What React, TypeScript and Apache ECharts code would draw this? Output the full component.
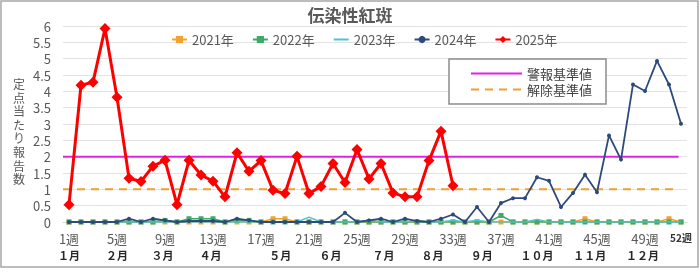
import React, { useEffect, useRef } from "react";
import * as echarts from "echarts";

const WEEKS: string[] = Array.from({ length: 52 }, (_, i) => `${i + 1}週`);
const Y_TICKS = { min: 0, max: 6, interval: 0.5 };
const Y_NAME = "定点当たり報告数";

const MONTH_LABELS = ["１月", "２月", "３月", "４月", "５月", "６月", "７月", "８月", "９月", "１０月", "１１月", "１２月"];
const MONTH_POS = [1, 5, 8.8, 12.8, 18.6, 22.8, 27.2, 31.3, 35.4, 40, 44.4, 48.8];

const Y2021 = [0, 0, 0, 0, 0, 0, 0, 0, 0, 0, 0, 0, 0, 0, 0, 0, 0, 0.1, 0.1, 0, 0, 0, 0, 0, 0, 0, 0, 0, 0, 0, 0, 0, 0, 0, 0, 0, 0, 0, 0, 0, 0, 0, 0, 0.1, 0, 0, 0, 0, 0, 0, 0.1, 0];
const Y2022 = [0, 0, 0, 0, 0, 0, 0, 0, 0.05, 0, 0.1, 0.1, 0.1, 0, 0.05, 0.05, 0, 0, 0, 0, 0, 0, 0, 0, 0, 0, 0, 0, 0, 0, 0, 0, 0, 0, 0, 0, 0.2, 0, 0, 0, 0, 0, 0, 0, 0, 0, 0, 0, 0, 0, 0, 0];
const Y2023 = [0, 0, 0, 0, 0, 0, 0, 0, 0, 0, 0, 0, 0, 0, 0, 0, 0, 0, 0, 0, 0.15, 0, 0, 0, 0, 0.05, 0, 0, 0, 0.05, 0, 0, 0.05, 0, 0.05, 0, 0, 0, 0, 0.08, 0, 0, 0, 0, 0, 0, 0, 0, 0, 0, 0, 0];
const Y2024 = [0, 0, 0, 0, 0, 0.1, 0, 0.1, 0.05, 0, 0.03, 0.03, 0.03, 0, 0.1, 0.05, 0, 0, 0, 0, 0, 0, 0, 0.28, 0, 0.05, 0.1, 0, 0.1, 0.03, 0, 0.1, 0.23, 0, 0.46, 0, 0.58, 0.73, 0.73, 1.37, 1.26, 0.46, 0.89, 1.45, 0.91, 2.65, 1.91, 4.21, 4.01, 4.93, 4.21, 3.01];
const Y2025 = [0.53, 4.19, 4.28, 5.92, 3.82, 1.34, 1.24, 1.71, 1.89, 0.53, 1.89, 1.44, 1.25, 0.77, 2.12, 1.55, 1.88, 0.97, 0.87, 2.01, 0.87, 1.09, 1.79, 1.21, 2.22, 1.32, 1.79, 0.89, 0.77, 0.77, 1.88, 2.78, 1.11];

const ALERT_LEVEL = 2;
const CLEAR_LEVEL = 1;
const THRESHOLD_SPAN = [0.5, 51.8];

const TEXT_GRAY = "#595959";

export default function App() {
  const ref = useRef<HTMLDivElement>(null);
  useEffect(() => {
    if (!ref.current) return;
    const chart = echarts.init(ref.current, null, { renderer: "svg" });
    const font = "'Noto Sans CJK JP', 'Noto Sans', sans-serif";
    const lineSeries = (name: string, data: number[], color: string, width: number, symbol: string, size: number, z: number) => ({
      name,
      type: "line",
      data,
      xAxisIndex: 0,
      yAxisIndex: 0,
      symbol,
      symbolSize: size,
      showSymbol: symbol !== "none",
      showAllSymbol: true,
      z,
      lineStyle: { color, width },
      itemStyle: { color },
    });
    const nameChars = Y_NAME.split("");
    const nameStep = 13.6;
    const nameCenter = 131;
    chart.setOption({
      animation: false,
      textStyle: { fontFamily: font },
      title: {
        text: "伝染性紅斑",
        left: "center",
        top: 1,
        textStyle: { fontSize: 17, fontWeight: "bold", color: TEXT_GRAY, fontFamily: font },
      },
      legend: [
        {
          data: [
            "2021年",
            "2022年",
            { name: "2023年", itemStyle: { opacity: 0 } },
            "2024年",
            "2025年",
          ],
          left: 166,
          top: 28,
          itemWidth: 15,
          itemHeight: 9,
          itemGap: 18,
          textStyle: { fontSize: 13, color: TEXT_GRAY, fontFamily: font },
        },
        {
          data: ["警報基準値", "解除基準値"],
          orient: "vertical",
          left: 449,
          top: 59,
          padding: [8, 14, 8, 21],
          itemWidth: 51,
          itemHeight: 10,
          itemGap: 3,
          itemStyle: { opacity: 0 },
          borderColor: "#8C8C8C",
          borderWidth: 1.5,
          backgroundColor: "#ffffff",
          textStyle: { fontSize: 13, color: "#404040", fontFamily: font },
        },
      ],
      grid: { left: 63, right: 13, top: 26, bottom: 52 },
      xAxis: [
        {
          type: "category",
          data: WEEKS,
          boundaryGap: true,
          axisLine: { lineStyle: { color: "#D9D9D9" } },
          axisTick: { show: false },
          axisLabel: {
            interval: (i: number) => i % 4 === 0 || i === 51,
            color: TEXT_GRAY,
            fontSize: 13,
            margin: 10,
            formatter: (v: string, i: number) => (i === 51 ? `{s|${v}}` : v),
            rich: { s: { fontSize: 10, fontWeight: "bold", color: "#333", padding: [0, 0, 4, 0] } },
          },
          splitLine: { show: false },
        },
        {
          type: "value",
          min: 0.5,
          max: 52.5,
          position: "bottom",
          axisLine: { show: false },
          axisTick: { show: false },
          splitLine: { show: false },
          axisLabel: {
            customValues: MONTH_POS,
            margin: 27,
            fontSize: 11,
            fontWeight: "bold",
            color: "#262626",
            formatter: (v: number) => {
              const idx = MONTH_POS.findIndex((p) => Math.abs(p - v) < 1e-6);
              return idx >= 0 ? MONTH_LABELS[idx] : "";
            },
          },
        },
      ],
      yAxis: {
        type: "value",
        min: Y_TICKS.min,
        max: Y_TICKS.max,
        interval: Y_TICKS.interval,
        axisLine: { show: false },
        axisTick: { show: false },
        axisLabel: { color: TEXT_GRAY, fontSize: 13, margin: 12 },
        splitLine: { lineStyle: { color: "#E3E3E3" } },
      },
      graphic: [
        {
          type: "rect",
          shape: { x: 1, y: 1, width: 697, height: 266 },
          style: { fill: "none", stroke: "#A6A6A6", lineWidth: 1.5 },
          silent: true,
        },
        ...nameChars.map((ch, i) => ({
          type: "text",
          x: 19,
          y: nameCenter + (i - (nameChars.length - 1) / 2) * nameStep,
          style: {
            text: ch,
            fontSize: 12,
            fill: TEXT_GRAY,
            textAlign: "center",
            textVerticalAlign: "middle",
            fontFamily: font,
          },
        })),
      ],
      series: [
        {
          name: "警報基準値",
          type: "line",
          xAxisIndex: 1,
          yAxisIndex: 0,
          data: [[THRESHOLD_SPAN[0], ALERT_LEVEL], [THRESHOLD_SPAN[1], ALERT_LEVEL]],
          symbol: "none",
          z: 1,
          lineStyle: { color: "#E61EE6", width: 2 },
          itemStyle: { color: "#E61EE6" },
        },
        {
          name: "解除基準値",
          type: "line",
          xAxisIndex: 1,
          yAxisIndex: 0,
          data: [[THRESHOLD_SPAN[0], CLEAR_LEVEL], [THRESHOLD_SPAN[1], CLEAR_LEVEL]],
          symbol: "none",
          z: 1,
          lineStyle: { color: "#F0A030", width: 2, type: [8, 6] },
          itemStyle: { color: "#F0A030" },
        },
        lineSeries("2021年", Y2021, "#F2A22E", 1.5, "rect", 5, 2),
        lineSeries("2022年", Y2022, "#3DAA6A", 1.5, "rect", 5, 3),
        lineSeries("2023年", Y2023, "#4EC3CE", 1.5, "none", 0, 4),
        lineSeries("2024年", Y2024, "#2E4A7D", 1.8, "circle", 4, 5),
        lineSeries("2025年", Y2025, "#FF0000", 3, "diamond", 11, 6),
      ],
    });
    return () => chart.dispose();
  }, []);
  return <div ref={ref} style={{ position: "fixed", left: 0, top: 0, width: 700, height: 274 }} />;
}
